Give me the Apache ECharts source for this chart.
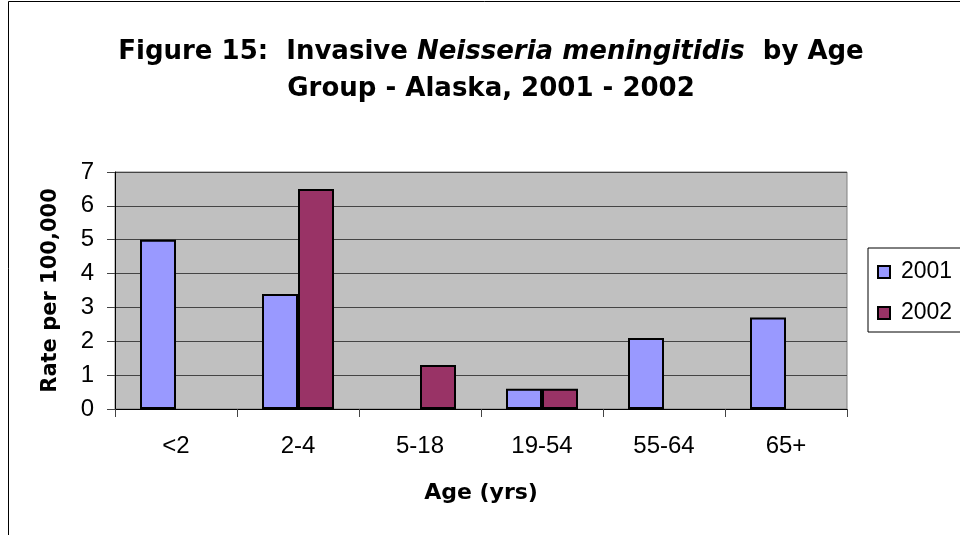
<!DOCTYPE html>
<html>
<head>
<meta charset="utf-8">
<script src="https://cdn.jsdelivr.net/npm/echarts@6/dist/echarts.min.js"></script>
<style>
  html, body { margin:0; padding:0; background:#fff; }
  #chart { width:960px; height:535px; }
</style>
</head>
<body>
<div id="chart"></div>
<script>
// data
var ageGroups = ['<2', '2-4', '5-18', '19-54', '55-64', '65+'];
var rate2001 = [5.0, 3.4, null, 0.6, 2.1, 2.7];
var rate2002 = [null, 6.5, 1.3, 0.6, null, null];
var yTicks = [0, 1, 2, 3, 4, 5, 6, 7];

var font = 'Arial, "Liberation Sans", sans-serif';
var boldFont = '"DejaVu Sans", sans-serif'; // wide bold face, like the original
var myChart = echarts.init(document.getElementById('chart'));

myChart.setOption({
  animation: false,
  backgroundColor: '#fff',
  title: {
    left: 491,
    textAlign: 'center',
    top: 34,
    padding: 0,
    text: '{b|Figure 15:  Invasive }{i|Neisseria meningitidis}{b|  by Age}\n{b|Group - Alaska, 2001 - 2002}',
    textStyle: {
      rich: {
        b: { fontFamily: boldFont, fontSize: 26, fontWeight: 'bold', color: '#000', lineHeight: 37 },
        i: { fontFamily: boldFont, fontSize: 26, fontWeight: 'bold', fontStyle: 'italic', color: '#000', lineHeight: 37 }
      }
    }
  },
  graphic: [
    { // outer chart border (clipped by the window on right and bottom)
      type: 'rect', silent: true, z: -10,
      shape: { x: 8.5, y: 1.5, width: 1000, height: 600 },
      style: { fill: 'none', stroke: '#000', lineWidth: 1 }
    }
  ],
  legend: {
    orient: 'vertical',
    left: 868,
    top: 248,
    padding: [12, 30, 7, 9],
    icon: 'rect',
    itemWidth: 12,
    itemHeight: 12,
    itemGap: 17,
    borderColor: '#000',
    borderWidth: 1,
    backgroundColor: '#fff',
    textStyle: { fontFamily: font, fontSize: 23, color: '#000', lineHeight: 24, padding: [0, 0, 0, 6] },
    data: ['2001', '2002']
  },
  grid: {
    left: 115, top: 172, width: 732, height: 237,
    show: true, backgroundColor: '#C0C0C0', borderColor: '#808080', borderWidth: 1,
    containLabel: false
  },
  xAxis: {
    type: 'category',
    data: ageGroups,
    boundaryGap: true,
    name: 'Age (yrs)',
    nameLocation: 'middle',
    nameGap: 73,
    nameTextStyle: { fontFamily: boldFont, fontSize: 22, fontWeight: 'bold', color: '#000' },
    axisLine: { lineStyle: { color: '#000', width: 1 } },
    axisTick: { show: true, alignWithLabel: false, length: 8, lineStyle: { color: '#444' } },
    axisLabel: { fontFamily: font, fontSize: 24, color: '#000', margin: 25 }
  },
  yAxis: {
    type: 'value',
    min: yTicks[0],
    max: yTicks[yTicks.length - 1],
    interval: 1,
    name: 'Rate per 100,000',
    nameLocation: 'middle',
    nameRotate: 90,
    nameGap: 54,
    nameTextStyle: { fontFamily: boldFont, fontSize: 21, fontWeight: 'bold', color: '#000' },
    axisLine: { show: true, lineStyle: { color: '#000', width: 1 } },
    axisTick: { show: true, length: 8, lineStyle: { color: '#444' } },
    axisLabel: { fontFamily: font, fontSize: 24, color: '#000', margin: 21 },
    splitLine: { show: true, lineStyle: { color: '#444', width: 1 } }
  },
  series: [
    {
      name: '2001',
      type: 'bar',
      data: rate2001,
      barWidth: 36,
      barGap: '0%',
      itemStyle: { color: '#9999FF', borderColor: '#000', borderWidth: 2 }
    },
    {
      name: '2002',
      type: 'bar',
      data: rate2002,
      barWidth: 36,
      barGap: '0%',
      itemStyle: { color: '#993366', borderColor: '#000', borderWidth: 2 }
    }
  ]
});
</script>
</body>
</html>
